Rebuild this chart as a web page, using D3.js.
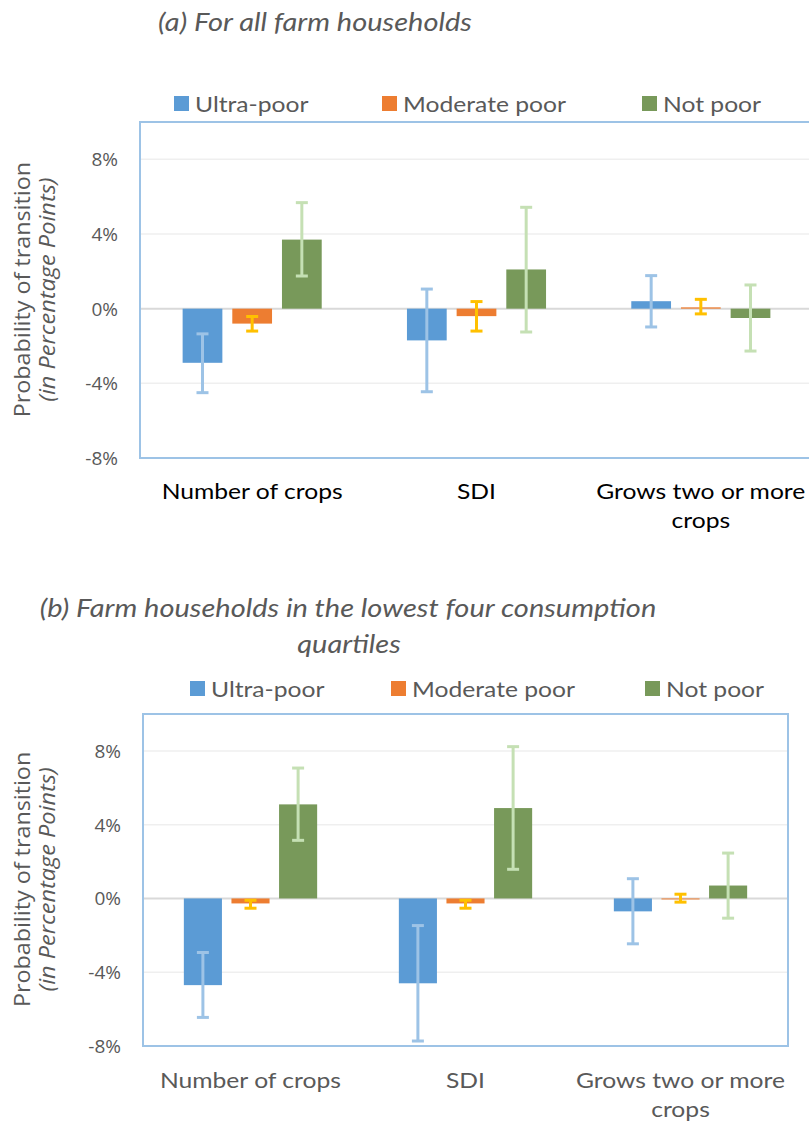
<!DOCTYPE html>
<html>
<head>
<meta charset="utf-8">
<script src="https://cdn.jsdelivr.net/npm/d3@7"></script>
<style>
  body { margin: 0; background: #fff; }
  svg { display: block; }
</style>
</head>
<body>
<div id="chart"></div>
<script>
var categories = ['Number of crops', 'SDI', 'Grows two or more crops']
var series = ['Ultra-poor', 'Moderate poor', 'Not poor']
var tickValues = [-8, -4, 0, 4, 8]

// (a) all farm households, one row per series, one value per category (%)
var allValues = [[-2.9, -1.7, 0.4], [-0.8, -0.4, 0.07], [3.7, 2.1, -0.5]]
var allLow = [[-4.5, -4.45, -0.98], [-1.2, -1.2, -0.28], [1.75, -1.25, -2.27]]
var allHigh = [[-1.35, 1.05, 1.77], [-0.42, 0.38, 0.5], [5.68, 5.43, 1.27]]

// (b) lowest four consumption quartiles
var lowValues = [[-4.7, -4.6, -0.7], [-0.27, -0.27, 0.0], [5.1, 4.9, 0.7]]
var lowLow = [[-6.45, -7.73, -2.46], [-0.53, -0.53, -0.2], [3.15, 1.58, -1.07]]
var lowHigh = [[-2.93, -1.47, 1.07], [-0.1, -0.1, 0.23], [7.07, 8.23, 2.46]]

var FILL = ['#5B9BD5', '#ED7D31', '#78995A']
var ERR = ['#9DC3E6', '#FFC000', '#C5E0B4']
var TEXT = '#595959'

var svg = d3.select('#chart').append('svg')
  .attr('width', 809)
  .attr('height', 1127)

// the source chart's font is narrower/taller than what we have, so widen a bit
function stretch (sel, f) {
  sel.each(function () {
    var w = this.getComputedTextLength()
    d3.select(this).attr('textLength', w * f).attr('lengthAdjust', 'spacingAndGlyphs')
  })
}

function panel (opt) {
  var g = svg.append('g')
  var y = d3.scaleLinear().domain([-8, 10]).range([opt.bottom, opt.top])
  var x0 = d3.scaleBand().domain(categories).range([opt.left, opt.right])
  var groupW = x0.bandwidth() * 0.62
  var x1 = d3.scaleBand().domain(series)
    .range([(x0.bandwidth() - groupW) / 2, (x0.bandwidth() + groupW) / 2])
    .paddingInner(0.2)

  // title
  g.selectAll('.title').data(opt.title).enter().append('text')
    .attr('x', function (d, i) { return opt.titleX[i] })
    .attr('y', function (d, i) { return opt.titleY + i * 36 })
    .attr('text-anchor', 'middle')
    .attr('font-family', 'Lato')
    .attr('font-style', 'italic')
    .attr('font-size', 25)
    .attr('fill', TEXT)
    .text(function (d) { return d })
    .call(stretch, 1.16)

  // legend
  var leg = g.selectAll('.leg').data(series).enter().append('g')
    .attr('transform', function (d, i) { return 'translate(' + opt.legendX[i] + ',' + opt.legendY + ')' })
  leg.append('rect')
    .attr('x', 0).attr('y', -8).attr('width', 15).attr('height', 15)
    .attr('fill', function (d, i) { return FILL[i] })
  leg.append('text')
    .attr('x', 21).attr('y', 8)
    .attr('font-family', 'Lato')
    .attr('font-size', 22)
    .attr('fill', TEXT)
    .text(function (d) { return d })
    .call(stretch, 1.12)

  // gridlines
  g.selectAll('.grid').data(tickValues.filter(function (t) { return t !== 0 && t !== -8 }))
    .enter().append('line')
    .attr('x1', opt.left).attr('x2', opt.right)
    .attr('y1', y).attr('y2', y)
    .attr('stroke', '#EFEFEF').attr('stroke-width', 1.5)

  // y axis tick labels
  g.selectAll('.tick').data(tickValues).enter().append('text')
    .attr('x', opt.left - 22)
    .attr('y', function (d) { return y(d) + 7 })
    .attr('text-anchor', 'end')
    .attr('font-family', 'Open Sans')
    .attr('font-size', 19)
    .attr('fill', TEXT)
    .text(function (d) { return d + '%' })

  // y axis title
  var cy = y(0) - 19
  g.append('text')
    .attr('transform', 'translate(30,' + cy + ') rotate(-90)')
    .attr('text-anchor', 'middle')
    .attr('font-family', 'Open Sans')
    .attr('font-size', 21)
    .attr('fill', TEXT)
    .text('Probability of transition')
    .call(stretch, 1.11)
  g.append('text')
    .attr('transform', 'translate(55,' + cy + ') rotate(-90)')
    .attr('text-anchor', 'middle')
    .attr('font-family', 'Open Sans')
    .attr('font-style', 'italic')
    .attr('font-size', 21)
    .attr('fill', TEXT)
    .text('(in Percentage Points)')
    .call(stretch, 1.12)

  // bars
  var rows = []
  series.forEach(function (s, si) {
    categories.forEach(function (c, ci) {
      rows.push({ s: s, si: si, c: c, v: opt.values[si][ci], lo: opt.low[si][ci], hi: opt.high[si][ci] })
    })
  })

  g.append('line')
    .attr('x1', opt.left).attr('x2', opt.right)
    .attr('y1', y(0)).attr('y2', y(0))
    .attr('stroke', '#D9D9D9').attr('stroke-width', 2)

  g.selectAll('.bar').data(rows).enter().append('rect')
    .attr('x', function (d) { return x0(d.c) + x1(d.s) })
    .attr('width', x1.bandwidth())
    .attr('y', function (d) { return y(Math.max(0, d.v)) })
    .attr('height', function (d) { return Math.max(1, Math.abs(y(d.v) - y(0))) })
    .attr('fill', function (d) { return FILL[d.si] })

  // error bars
  var err = g.selectAll('.err').data(rows).enter().append('g')
    .attr('stroke', function (d) { return ERR[d.si] })
    .attr('stroke-width', 3)
  err.append('line')
    .attr('x1', function (d) { return x0(d.c) + x1(d.s) + x1.bandwidth() / 2 })
    .attr('x2', function (d) { return x0(d.c) + x1(d.s) + x1.bandwidth() / 2 })
    .attr('y1', function (d) { return y(d.lo) })
    .attr('y2', function (d) { return y(d.hi) })
  ;['lo', 'hi'].forEach(function (k) {
    err.append('line')
      .attr('x1', function (d) { return x0(d.c) + x1(d.s) + x1.bandwidth() / 2 - 6 })
      .attr('x2', function (d) { return x0(d.c) + x1(d.s) + x1.bandwidth() / 2 + 6 })
      .attr('y1', function (d) { return y(d[k]) })
      .attr('y2', function (d) { return y(d[k]) })
  })

  // plot border
  g.append('rect')
    .attr('x', opt.left).attr('y', opt.top)
    .attr('width', opt.right - opt.left).attr('height', opt.bottom - opt.top)
    .attr('fill', 'none')
    .attr('stroke', '#9DC3E6').attr('stroke-width', 2)

  // category labels
  var cat = g.selectAll('.cat').data(categories).enter().append('text')
    .attr('text-anchor', 'middle')
    .attr('font-family', 'Lato')
    .attr('font-size', 22)
    .attr('fill', opt.catColor)
  cat.each(function (d) {
    var lines = d === 'Grows two or more crops' ? ['Grows two or more', 'crops'] : [d]
    var t = d3.select(this)
    lines.forEach(function (l, i) {
      t.append('tspan')
        .attr('x', x0(d) + x0.bandwidth() / 2)
        .attr('y', opt.bottom + opt.catDy + i * 29)
        .text(l)
    })
  })
  cat.selectAll('tspan').call(stretch, 1.12)
}

panel({
  title: ['(a) For all farm households'],
  titleX: [315],
  titleY: 31,
  legendX: [174, 382, 642],
  legendY: 104,
  left: 140, right: 813, top: 122, bottom: 458,
  values: allValues, low: allLow, high: allHigh,
  catColor: '#000', catDy: 41
})

panel({
  title: ['(b) Farm households in the lowest four consumption', 'quartiles'],
  titleX: [348, 349],
  titleY: 617,
  legendX: [190, 391, 645],
  legendY: 689,
  left: 143, right: 788, top: 714, bottom: 1046,
  values: lowValues, low: lowLow, high: lowHigh,
  catColor: TEXT, catDy: 42
})
</script>
</body>
</html>
